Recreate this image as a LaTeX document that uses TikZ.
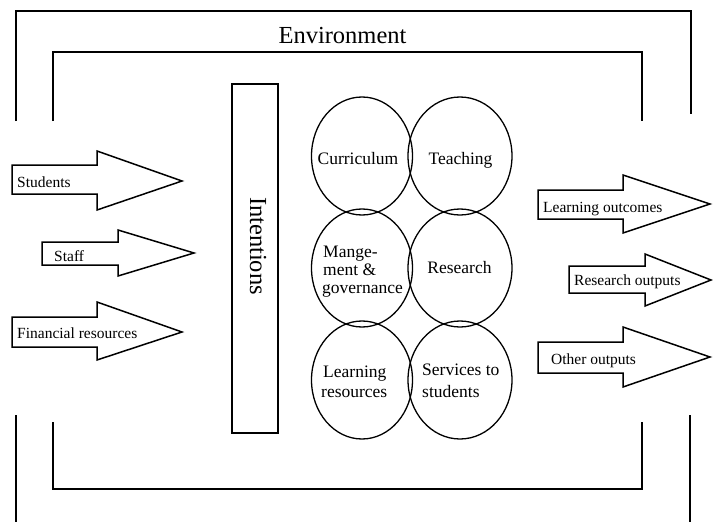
\documentclass[tikz,border=0pt]{standalone}
\usepackage{fontspec}
\setmainfont{Liberation Serif}
\begin{document}
\begin{tikzpicture}[x=1pt,y=-1pt,
  frame/.style={line width=1.8pt},
  blockarrow/.style={draw,line width=1.5pt,line join=miter},
  ell/.style={draw,line width=1.3pt},
  smalltxt/.style={font=\fontsize{15.5}{18}\selectfont,inner sep=0pt,anchor=base west},
  elltxt/.style={font=\fontsize{17.5}{20}\selectfont,inner sep=0pt},
  bigtxt/.style={font=\fontsize{24.5}{29}\selectfont,inner sep=0pt}]
\useasboundingbox (0,0) rectangle (713,522);
% environment frames
\draw[frame] (16,121) -- (16,11) -- (691,11) -- (691,114);
\draw[frame] (16,415) -- (16,522);
\draw[frame] (690,415) -- (690,522);
\draw[frame] (53,121) -- (53,52) -- (642,52) -- (642,121);
\draw[frame] (53,422) -- (53,489) -- (642,489) -- (642,422);
\node[bigtxt,anchor=base] (env) at (342.5,43) {Environment};
% intentions
\node[draw,line width=1.5pt,minimum width=46pt,minimum height=349pt,inner sep=0pt] (intbox) at (255,258.5) {};
\node[bigtxt,rotate=-90] (int) at (258,246) {Intentions};
% input arrows
\draw[blockarrow] (12,165) -- (97,165) -- (97,151) -- (182,181) -- (97,210) -- (97,194) -- (12,194) -- cycle;
\draw[blockarrow] (42,242) -- (118,242) -- (118,230) -- (194,253) -- (118,276) -- (118,265) -- (42,265) -- cycle;
\draw[blockarrow] (12,317) -- (97,317) -- (97,302) -- (182,332) -- (97,360) -- (97,347) -- (12,347) -- cycle;
\node[smalltxt] (stu) at (17,187) {Students};
\node[smalltxt] (staff) at (54,261) {Staff};
\node[smalltxt] (fin) at (17,338) {Financial resources};
% output arrows
\draw[blockarrow] (538,190) -- (623,190) -- (623,175) -- (710,204) -- (623,233) -- (623,219) -- (538,219) -- cycle;
\draw[blockarrow] (569,266) -- (645,266) -- (645,254) -- (711,280) -- (645,306) -- (645,293) -- (569,293) -- cycle;
\draw[blockarrow] (538,342) -- (623,342) -- (623,327) -- (710,357) -- (623,387) -- (623,373) -- (538,373) -- cycle;
\node[smalltxt] (lo) at (543,212) {Learning outcomes};
\node[smalltxt] (ro) at (574,285) {Research outputs};
\node[smalltxt] (oo) at (551,364) {Other outputs};
% ellipses
\draw[ell] (362,156) ellipse [x radius=50.5, y radius=59];
\draw[ell] (460,156) ellipse [x radius=52, y radius=59];
\draw[ell] (362,268) ellipse [x radius=50.5, y radius=59];
\draw[ell] (460,268) ellipse [x radius=52, y radius=59];
\draw[ell] (362,380) ellipse [x radius=50.5, y radius=59];
\draw[ell] (460,380) ellipse [x radius=52, y radius=59];
\node[elltxt,anchor=base] (cur) at (358,164) {Curriculum};
\node[elltxt,anchor=base] (tea) at (460.5,164) {Teaching};
\node[elltxt,anchor=base] (res) at (459.5,273) {Research};
\node[elltxt,anchor=base west] (mg1) at (323,257) {Mange-};
\node[elltxt,anchor=base west] (mg2) at (323,275) {ment \&};
\node[elltxt,anchor=base west] (mg3) at (322,293) {governance};
\node[elltxt,anchor=base west] (lr1) at (323,377) {Learning};
\node[elltxt,anchor=base west] (lr2) at (321,397) {resources};
\node[elltxt,anchor=base west] (ss1) at (422,375) {Services to};
\node[elltxt,anchor=base west] (ss2) at (422,397) {students};
\end{tikzpicture}
\end{document}
